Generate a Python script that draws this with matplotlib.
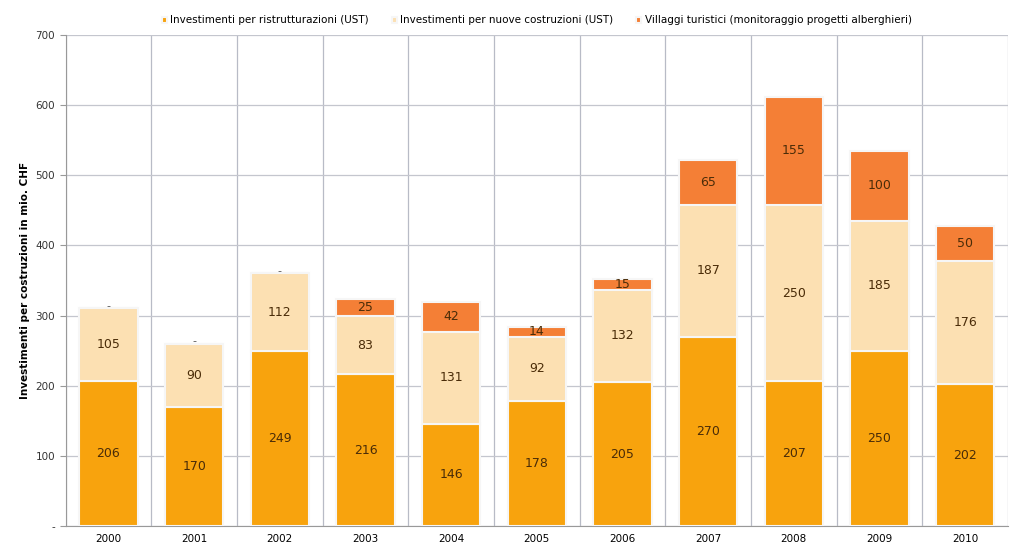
import matplotlib.pyplot as plt
import numpy as np

years = ["2000", "2001", "2002", "2003", "2004", "2005", "2006", "2007", "2008", "2009", "2010"]
ristrutturazioni = [206, 170, 249, 216, 146, 178, 205, 270, 207, 250, 202]
nuove = [105, 90, 112, 83, 131, 92, 132, 187, 250, 185, 176]
villaggi = [0, 0, 0, 25, 42, 14, 15, 65, 155, 100, 50]

series = [
    ("Investimenti per ristrutturazioni (UST)", ristrutturazioni, "#F8A30D"),
    ("Investimenti per nuove costruzioni (UST)", nuove, "#FCE0B2"),
    ("Villaggi turistici (monitoraggio progetti alberghieri)", villaggi, "#F47F36"),
]

fig = plt.figure(figsize=(10.1, 5.44), dpi=100)
ax = fig.add_axes([0.065, 0.033, 0.933, 0.903])

x = np.arange(len(years))
bottom = np.zeros(len(years))
for label, vals, color in series:
    vals = np.array(vals)
    ax.bar(x, vals, 0.68, bottom=bottom, color=color, edgecolor="#F6F6F6",
           linewidth=1.5, label=label, zorder=3)
    for xi, b, v in zip(x, bottom, vals):
        if v == 0:
            ax.text(xi, b + v + 3, "-", ha="center", va="center", fontsize=8, color="#555555", zorder=4)
        else:
            ax.text(xi, b + v / 2, str(v), ha="center", va="center", fontsize=9,
                    color="#4a2c08", zorder=4)
    bottom = bottom + vals

ax.set_xlim(-0.5, len(years) - 0.5)
ax.set_ylim(0, 700)
ax.set_yticks(np.arange(0, 701, 100))
ax.set_yticklabels(["-"] + [str(v) for v in range(100, 701, 100)])
ax.set_xticks(x)
ax.set_xticklabels(years)
ax.set_xticks(np.arange(-0.5, len(years), 1), minor=True)
ax.grid(axis="y", color="#C4C6CE", linewidth=0.9, zorder=0)
ax.grid(axis="x", which="minor", color="#B8BBC6", linewidth=0.9, zorder=0)
ax.tick_params(axis="x", which="major", length=0, labelsize=7.5, pad=6)
ax.tick_params(axis="x", which="minor", length=0)
ax.tick_params(axis="y", labelsize=7.5, length=4, color="#999999", labelcolor="#333333")
for side in ["top", "right"]:
    ax.spines[side].set_visible(False)
ax.spines["left"].set_color("#999999")
ax.spines["bottom"].set_color("#999999")
ax.set_ylabel("Investimenti per costruzioni in mio. CHF", fontsize=7.5, fontweight="bold")

ax.legend(loc="lower center", bbox_to_anchor=(0.5, 1.0), ncol=3, frameon=False,
          fontsize=7.5, handlelength=0.5, handleheight=0.5, handletextpad=0.3,
          columnspacing=2.2)

fig.savefig("out.png", dpi=100)
